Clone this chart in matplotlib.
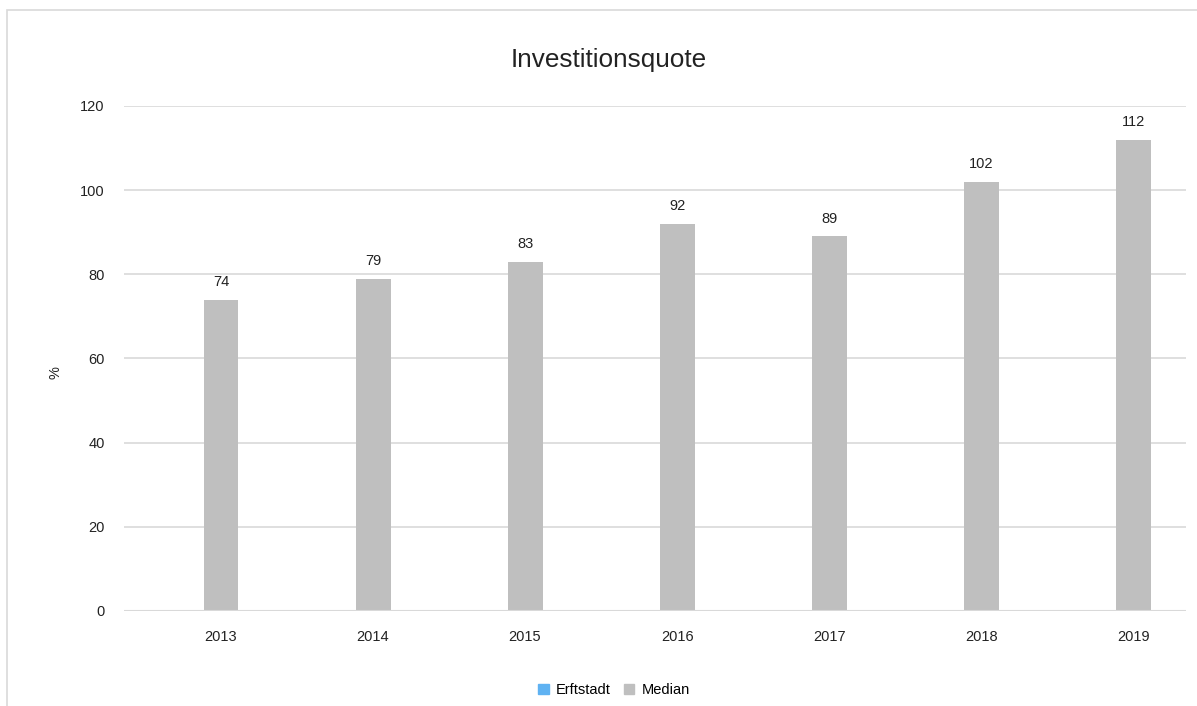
import numpy as np
import matplotlib.pyplot as plt
from matplotlib.patches import Rectangle, Patch

years = ['2013', '2014', '2015', '2016', '2017', '2018', '2019']
erftstadt = [np.nan] * 7
median = [74, 79, 83, 92, 89, 102, 112]

plt.rcParams['font.family'] = ['Liberation Sans', 'DejaVu Sans']

fig = plt.figure(figsize=(11.97, 7.06), dpi=100)
ax = fig.add_axes([0.1036, 0.1346, 0.8874, 0.7153])

x = np.arange(len(years))
ax.bar(x, erftstadt, width=0.23, color='#5fb2f2')
bars = ax.bar(x, median, width=0.23, color='#bfbfbf', zorder=3)
for b, v in zip(bars, median):
    ax.text(b.get_x() + b.get_width() / 2, v + 2.5, str(v), ha='center', va='bottom',
            fontsize=10.5, color='#222222')

# plot area is not symmetric around the categories in the original
ax.set_xlim(-0.638, 6.349)
ax.set_ylim(0, 120)
ax.set_yticks(range(0, 121, 20))
ax.set_xticks(x)
ax.set_xticklabels(years)
ax.tick_params(length=0, labelsize=10.5, colors='#222222')
ax.tick_params(axis='x', pad=14)
ax.tick_params(axis='y', pad=14)
ax.grid(axis='y', color='#d9d9d9', linewidth=1.2, zorder=0)
ax.set_axisbelow(True)
for s in ax.spines.values():
    s.set_visible(False)
ax.axhline(0, color='#d9d9d9', linewidth=1.5, zorder=4)

fig.text(55 / 1197, 1 - 373 / 706, '%', rotation=90, ha='center', va='center',
         fontsize=10.5, color='#222222')
fig.text(609 / 1197, 1 - 60 / 706, 'Investitionsquote', ha='center', va='center',
         fontsize=18.8, color='#222222')

handles = [Patch(color='#5fb2f2'), Patch(color='#bfbfbf')]
fig.legend(handles, ['Erftstadt', 'Median'], loc='center', bbox_to_anchor=(614 / 1197, 0.022),
           ncol=2, frameon=False, fontsize=10.5, handlelength=0.7, handleheight=0.7,
           handletextpad=0.5, columnspacing=0.9)

fig.patches.append(Rectangle((7 / 1197, -0.1), 1.2, 1 - 10 / 706 + 0.1, transform=fig.transFigure,
                             fill=False, edgecolor='#d9d9d9', linewidth=1.2))

fig.savefig('out.png', dpi=100, facecolor='white')
